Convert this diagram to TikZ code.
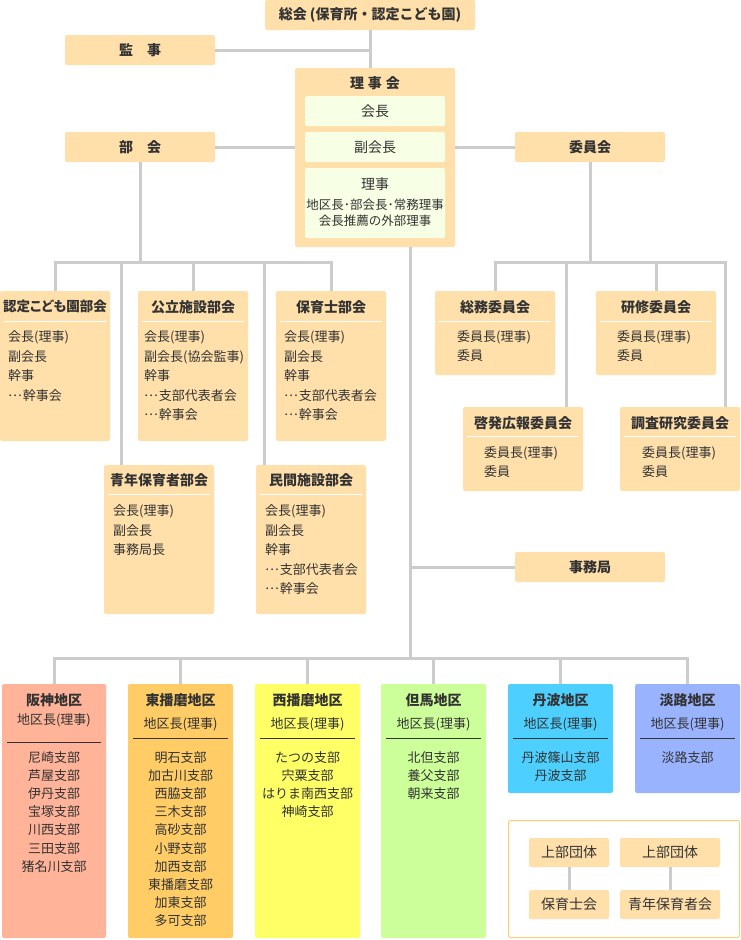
\documentclass[tikz,border=0pt]{standalone}
\usepackage{fontspec}
\setmainfont{Noto Sans CJK JP}
\definecolor{boxc}{HTML}{FFE0AA}
\definecolor{innerc}{HTML}{F7FFE4}
\definecolor{linec}{HTML}{CCCCCC}
\definecolor{txt}{HTML}{333333}
\definecolor{hanshinc}{HTML}{FFB399}
\definecolor{higashic}{HTML}{FFCC66}
\definecolor{nishic}{HTML}{FFFF66}
\definecolor{tajimac}{HTML}{CCFF99}
\definecolor{tambac}{HTML}{4DD0FF}
\definecolor{awajic}{HTML}{99B3FF}
\definecolor{legc}{HTML}{FFCC77}
\newcommand\fwell{\raisebox{0.32em}{…}\hspace{1pt}}
\newcommand\llist[5]{\foreach \t [count=\i] in {#5} {\node[itm,anchor=west] (#1-\i) at (#2,{#3+#4*(\i-1)}) {\t};}}
\newcommand\clist[4]{\foreach \t [count=\i] in {#4} {\node[itm] (#1-\i) at (#2,{#3+18.2*(\i-1)}) {\t};}}
\begin{document}
\begin{tikzpicture}[x=1pt,y=-1pt,
  box/.style={fill=boxc, rounded corners=2pt, inner sep=0pt, text=txt},
  ibox/.style={fill=innerc, rounded corners=2pt, inner sep=0pt, text=txt},
  conn/.style={draw=linec, line width=3pt},
  ttl/.style={font=\fontsize{14}{16}\selectfont\bfseries, text=txt, inner sep=0pt},
  itm/.style={font=\fontsize{13}{15}\selectfont, text=txt, inner sep=0pt, text height=0.88em, text depth=0.12em},
  sml/.style={font=\fontsize{12.5}{14}\selectfont, text=txt, inner sep=0pt},
  wdiv/.style={draw=white, line width=1pt},
  ddiv/.style={draw=txt, line width=0.8pt}]
\useasboundingbox (0,0) rectangle (740,940);

% top level
\node[box, minimum width=210pt, minimum height=30pt, ttl] (sokai) at (370,15) {総会 (保育所・認定こども園)};
\node[box, minimum width=150pt, minimum height=30pt, ttl] (kanji) at (140,50) {監\hspace{14pt}事};
\node[box, minimum width=160pt, minimum height=179pt] (rijikai) at (375,157.5) {};
\node[ttl] (rijikaittl) at (375,83) {理\hspace{4pt}事\hspace{4pt}会};
\node[ibox, minimum width=140pt, minimum height=30pt, font=\fontsize{14}{16}\selectfont] (kaicho) at (375,111) {会長};
\node[ibox, minimum width=140pt, minimum height=30pt, font=\fontsize{14}{16}\selectfont] (fuku) at (375,147) {副会長};
\node[ibox, minimum width=140pt, minimum height=70pt] (riji) at (375,203) {};
\node[text=txt, inner sep=0pt, font=\fontsize{14}{16}\selectfont] (rijit) at (375,184) {理事};
\node[sml] (rijil1) at (375,205) {地区長･部会長･常務理事};
\node[sml] (rijil2) at (375,221) {会長推薦の外部理事};
\node[box, minimum width=150pt, minimum height=30pt, ttl] (bukai) at (140,147) {部\hspace{14pt}会};
\node[box, minimum width=150pt, minimum height=30pt, ttl] (iinkai) at (590,147) {委員会};
\node[box, minimum width=150pt, minimum height=30pt, ttl] (jimu) at (590,567) {事務局};

\coordinate (bkbar) at (140,262);
\coordinate (iibar) at (590,262);
\coordinate (dbar) at (410,658);

% connectors top
\draw[conn] (sokai.south) -- (sokai.south |- rijikai.north);
\draw[conn] (kanji.east) -- (kanji.east -| sokai.south);
\draw[conn] (bukai.east) -- (bukai.east -| rijikai.west);
\draw[conn] (rijikai.east |- iinkai.west) -- (iinkai.west);
\draw[conn] (bukai.south) -- (bukai.south |- bkbar);
\draw[conn] (iinkai.south) -- (iinkai.south |- iibar);
\draw[conn] (rijikai.south -| dbar) -- (dbar);
\draw[conn] (jimu.west -| dbar) -- (jimu.west);

% bukai boxes
\node[box, minimum width=110pt, minimum height=150pt] (nintei) at (55,366) {};
\node[box, minimum width=110pt, minimum height=150pt] (koritsu) at (193,366) {};
\node[box, minimum width=110pt, minimum height=150pt] (hoikushi) at (331,366) {};
\node[box, minimum width=110pt, minimum height=149pt] (seinen) at (159,539.5) {};
\node[box, minimum width=110pt, minimum height=149pt] (minkan) at (311,539.5) {};

\node[ttl, font=\fontsize{13.5}{16}\selectfont\bfseries\addfontfeature{RawFeature=+palt}] (nintei-t) at ([yshift=-16pt]nintei.north) {認定こども園部会};
\node[ttl] (koritsu-t) at ([yshift=-16pt]koritsu.north) {公立施設部会};
\node[ttl] (hoikushi-t) at ([yshift=-16pt]hoikushi.north) {保育士部会};
\node[ttl] (seinen-t) at ([yshift=-15pt]seinen.north) {青年保育者部会};
\node[ttl] (minkan-t) at ([yshift=-15pt]minkan.north) {民間施設部会};
\foreach \b/\s in {nintei/31,koritsu/31,hoikushi/31,seinen/30,minkan/30}
  \draw[wdiv] ([xshift=4pt,yshift=-\s pt]\b.north west) -- ([xshift=-4pt,yshift=-\s pt]\b.north east);

\llist{nintei}{8}{338}{19.5}{会長(理事),副会長,幹事,\fwell 幹事会}
\llist{koritsu}{144}{338}{19.5}{会長(理事),副会長(協会監事),幹事,\fwell 支部代表者会,\fwell 幹事会}
\llist{hoikushi}{284}{338}{19.5}{会長(理事),副会長,幹事,\fwell 支部代表者会,\fwell 幹事会}
\llist{seinen}{113}{512}{19.5}{会長(理事),副会長,事務局長}
\llist{minkan}{265}{512}{19.5}{会長(理事),副会長,幹事,\fwell 支部代表者会,\fwell 幹事会}

\draw[conn] (nintei.north) -- (nintei.north |- bkbar) -- (hoikushi.north |- bkbar) -- (hoikushi.north);
\draw[conn] (koritsu.north |- bkbar) -- (koritsu.north);
\draw[conn] ([xshift=-38pt]seinen.north |- bkbar) -- ([xshift=-38pt]seinen.north);
\draw[conn] ([xshift=-47pt]minkan.north |- bkbar) -- ([xshift=-47pt]minkan.north);

% iinkai boxes
\node[box, minimum width=120pt, minimum height=84pt] (somu) at (495,333) {};
\node[box, minimum width=120pt, minimum height=84pt] (kenshu) at (656,333) {};
\node[box, minimum width=120pt, minimum height=84pt] (keihatsu) at (523,449) {};
\node[box, minimum width=120pt, minimum height=84pt] (chosa) at (680,449) {};
\node[ttl] (somu-t) at ([yshift=-16pt]somu.north) {総務委員会};
\node[ttl] (kenshu-t) at ([yshift=-16pt]kenshu.north) {研修委員会};
\node[ttl] (keihatsu-t) at ([yshift=-16pt]keihatsu.north) {啓発広報委員会};
\node[ttl] (chosa-t) at ([yshift=-16pt]chosa.north) {調査研究委員会};
\foreach \b/\s in {somu/31,kenshu/31,keihatsu/30,chosa/30}
  \draw[wdiv] ([xshift=4pt,yshift=-\s pt]\b.north west) -- ([xshift=-4pt,yshift=-\s pt]\b.north east);
\llist{somu}{457}{338}{19}{委員長(理事),委員}
\llist{kenshu}{617}{338}{19}{委員長(理事),委員}
\llist{keihatsu}{484}{454}{19}{委員長(理事),委員}
\llist{chosa}{642}{454}{19}{委員長(理事),委員}

\draw[conn] (somu.north) -- (somu.north |- iibar) -- ([xshift=45pt]chosa.north |- iibar) -- ([xshift=45pt]chosa.north);
\draw[conn] (kenshu.north |- iibar) -- (kenshu.north);
\draw[conn] ([xshift=43pt]keihatsu.north |- iibar) -- ([xshift=43pt]keihatsu.north);

% districts
\node[fill=hanshinc, rounded corners=2pt, minimum width=104pt, minimum height=254pt, inner sep=0pt] (hanshin) at (54,811) {};
\node[fill=higashic, rounded corners=2pt, minimum width=105pt, minimum height=254pt, inner sep=0pt] (higashi) at (180.5,811) {};
\node[fill=nishic, rounded corners=2pt, minimum width=105pt, minimum height=254pt, inner sep=0pt] (nishi) at (307.5,811) {};
\node[fill=tajimac, rounded corners=2pt, minimum width=105pt, minimum height=254pt, inner sep=0pt] (tajima) at (433.5,811) {};
\node[fill=tambac, rounded corners=2pt, minimum width=105pt, minimum height=109pt, inner sep=0pt] (tamba) at (560.5,738.5) {};
\node[fill=awajic, rounded corners=2pt, minimum width=105pt, minimum height=109pt, inner sep=0pt] (awaji) at (687.5,738.5) {};

\foreach \b/\n/\s/\d in {hanshin/阪神地区/37/59, higashi/東播磨地区/41/55, nishi/西播磨地区/41/55, tajima/但馬地区/41/55, tamba/丹波地区/41/55, awaji/淡路地区/41/55}{
  \node[ttl] (\b-t) at ([yshift=-16pt]\b.north) {\n};
  \node[itm] (\b-s) at ([yshift=-\s pt]\b.north) {地区長(理事)};
  \draw[ddiv] ([xshift=5pt,yshift=-\d pt]\b.north west) -- ([xshift=-5pt,yshift=-\d pt]\b.north east);
}
\clist{hanshin}{54}{758.3}{尼崎支部,芦屋支部,伊丹支部,宝塚支部,川西支部,三田支部,猪名川支部}
\clist{higashi}{180.5}{758.3}{明石支部,加古川支部,西脇支部,三木支部,高砂支部,小野支部,加西支部,東播磨支部,加東支部,多可支部}
\clist{nishi}{307.5}{758.3}{たつの支部,宍粟支部,はりま南西支部,神崎支部}
\clist{tajima}{433.5}{758.3}{北但支部,養父支部,朝来支部}
\clist{tamba}{560.5}{758.3}{丹波篠山支部,丹波支部}
\clist{awaji}{687.5}{758.3}{淡路支部}

\draw[conn] (hanshin.north) -- (hanshin.north |- dbar) -- (awaji.north |- dbar) -- (awaji.north);
\foreach \b in {higashi,nishi,tajima,tamba}
  \draw[conn] (\b.north |- dbar) -- (\b.north);

% legend
\node[draw=legc, line width=1pt, fill=white, rounded corners=2pt, minimum width=231pt, minimum height=117pt, inner sep=0pt] (legend) at (624,879) {};
\node[box, minimum width=80pt, minimum height=29pt, font=\fontsize{14}{16}\selectfont] (joubu1) at (569,852.5) {上部団体};
\node[box, minimum width=80pt, minimum height=29pt, font=\fontsize{14}{16}\selectfont] (hoikushikai) at (569,904.5) {保育士会};
\node[box, minimum width=100pt, minimum height=29pt, font=\fontsize{14}{16}\selectfont] (joubu2) at (670,852.5) {上部団体};
\node[box, minimum width=100pt, minimum height=29pt, font=\fontsize{14}{16}\selectfont] (seinenkai) at (670,904.5) {青年保育者会};
\draw[conn] (joubu1.south) -- (hoikushikai.north);
\draw[conn] (joubu2.south) -- (seinenkai.north);
\end{tikzpicture}
\end{document}
